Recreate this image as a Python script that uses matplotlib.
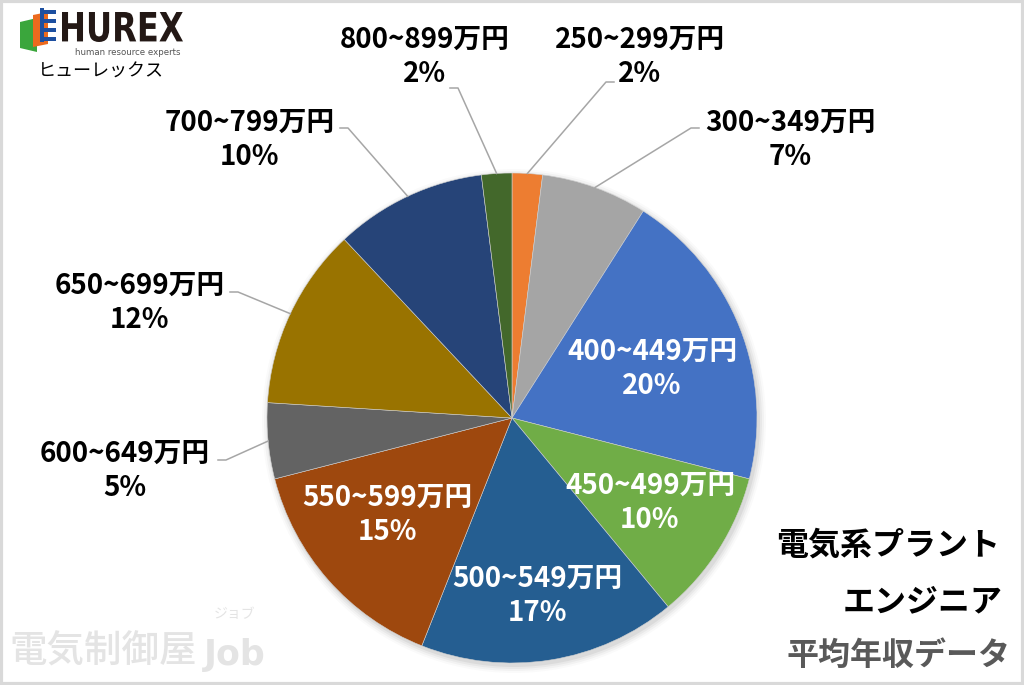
import numpy as np
import matplotlib
matplotlib.use("Agg")
import matplotlib.pyplot as plt
from matplotlib.patches import Polygon, Rectangle, Circle, PathPatch
from matplotlib.textpath import TextPath
from matplotlib.font_manager import FontProperties
from matplotlib.transforms import Affine2D

plt.rcParams["font.family"] = ["Noto Sans CJK JP", "DejaVu Sans"]

# ---- data (clockwise from 12 o'clock) ----
categories = ["250~299万円", "300~349万円", "400~449万円", "450~499万円",
              "500~549万円", "550~599万円", "600~649万円", "650~699万円",
              "700~799万円", "800~899万円"]
shares = [2, 7, 20, 10, 17, 15, 5, 12, 10, 2]
colors = ["#ED7D31", "#A5A5A5", "#4472C4", "#70AD47", "#255E91",
          "#9E480E", "#636363", "#997300", "#264478", "#43682B"]
inside = [False, False, True, True, True, True, False, False, False, False]

# label anchor (pixel coords, y down) and elbow end of leader line
label_pos = [(640, 57), (790, 140), (652, 369), (650, 503), (537, 596),
             (387, 515), (125, 471), (140, 303), (250, 140), (425, 57)]
leader_start = [(614, 82), (699, 128), None, None, None,
                None, (218, 460), (230, 292), (340, 128), (450, 88)]
leader_elbow = [(606, 82), (691, 128), None, None, None,
                None, (226, 460), (238, 292), (348, 128), (458, 88)]

W, H = 1024, 685
CX, CY, R = 512, 418, 245


def px(x, y):
    """pixel (y down) -> data (y up)"""
    return x, H - y


fig = plt.figure(figsize=(W / 100, H / 100), dpi=100)
ax = fig.add_axes([0, 0, 1, 1])

# soft shadow under the pie
for i, a in enumerate([0.05, 0.04, 0.03, 0.02]):
    ax.add_patch(Circle(px(CX + 2, CY + 3), R + 1 + 2 * i, color="black",
                        alpha=a, lw=0, zorder=0))

wedges, _ = ax.pie(shares, colors=colors, startangle=90, counterclock=False,
                   center=px(CX, CY), radius=R,
                   wedgeprops=dict(linewidth=0.4, edgecolor="#d0d0d0"))
ax.set_xlim(0, W)
ax.set_ylim(0, H)
ax.set_aspect("equal")
ax.axis("off")

# labels + leader lines
for i, (cat, s) in enumerate(zip(categories, shares)):
    x, y = label_pos[i]
    ax.text(*px(x, y), f"{cat}\n{s}%", ha="center", va="center",
            fontsize=20, fontweight="bold", linespacing=1.3,
            color="white" if inside[i] else "black", zorder=5)
    if leader_start[i] is None:
        continue
    w = wedges[i]
    mid = np.deg2rad(0.5 * (w.theta1 + w.theta2))
    ex, ey = CX + R * np.cos(mid), CY - R * np.sin(mid)
    pts = [leader_start[i], leader_elbow[i], (ex, ey)]
    ax.plot([p[0] for p in pts], [H - p[1] for p in pts],
            color="#a6a6a6", lw=1.1, zorder=4)

# title block bottom right
ax.text(*px(1000, 546), "電気系プラント", ha="right", va="center",
        fontsize=23, fontweight="bold", color="black")
ax.text(*px(1003, 602), "エンジニア", ha="right", va="center",
        fontsize=23, fontweight="bold", color="black")
ax.text(*px(1010, 656), "平均年収データ", ha="right", va="center",
        fontsize=23, fontweight="bold", color="#595959")

# watermark bottom left
ax.text(*px(9, 652), "電気制御屋", ha="left", va="center",
        fontsize=27, fontweight="medium", color="#e4e4e4")
ax.text(*px(204, 655), "Job", ha="left", va="center",
        fontsize=25, fontweight="bold", color="#e4e4e4", family="DejaVu Sans")
ax.text(*px(214, 614), "ジョブ", ha="left", va="center",
        fontsize=10, color="#e4e4e4")

# HUREX logo top left
ax.add_patch(Polygon([px(20, 22), px(37, 18), px(37, 52), px(20, 48)],
                     closed=True, color="#3aa63c", lw=0))
ax.add_patch(Polygon([px(33, 15), px(48, 12), px(48, 44), px(33, 47)],
                     closed=True, color="#ec6a1e", lw=0))
for yy in (10, 19, 28, 37):
    ax.add_patch(Rectangle(px(40, yy + 4), 16, 4, color="#1d4fa0", lw=0))
ax.add_patch(Rectangle(px(40, 42), 4, 34, color="#1d4fa0", lw=0))

# tall, narrow "HUREX" wordmark: text path squeezed into its box
tp = TextPath((0, 0), "HUREX", size=30,
              prop=FontProperties(family="DejaVu Sans", weight="bold"))
ext = tp.get_extents()
x0, x1, y_top, y_bot = 62, 183, 12, 42
sx = (x1 - x0) / ext.width
sy = (y_bot - y_top) / ext.height
tr = (Affine2D().translate(-ext.x0, -ext.y0).scale(sx, sy)
      .translate(x0, H - y_bot))
ax.add_patch(PathPatch(tr.transform_path(tp), color="#231815", lw=0))

ax.text(*px(75, 52), "human resource experts", ha="left", va="center",
        fontsize=6.2, color="#555555", family="DejaVu Sans")
ax.text(*px(38, 72), "ヒューレックス", ha="left", va="center",
        fontsize=13, color="black")

# light frame
ax.add_patch(Rectangle((1, 1), W - 2, H - 2, fill=False, edgecolor="#d9d9d9",
                       lw=3, zorder=10))

fig.savefig("out.png", dpi=100)
